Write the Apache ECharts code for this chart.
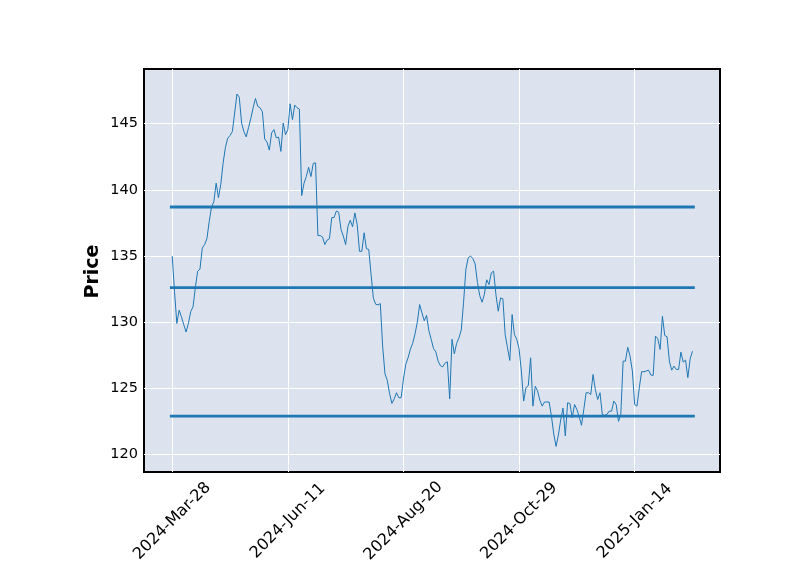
<!DOCTYPE html>
<html><head><meta charset="utf-8">
<script src="https://cdn.jsdelivr.net/npm/echarts@6/dist/echarts.min.js"></script>
<style>html,body{margin:0;padding:0;background:#fff}#c{width:800px;height:575px}</style>
</head><body><div id="c"></div>
<script>
// Close prices, one per trading day (index 0 = 2024-Mar-28)
const closePrices = [
135.0,132.3,129.9,130.9,130.4,129.8,129.25,129.9,130.8,131.15,
132.6,133.85,134.0,135.6,135.86,136.3,137.6,138.7,139.1,140.5,
139.4,140.4,142.0,143.2,143.9,144.1,144.4,145.8,147.24,146.99,
145.05,144.4,144.0,144.7,145.4,146.2,146.9,146.3,146.2,145.9,
143.84,143.6,143.0,144.3,144.55,143.92,143.99,142.9,145.05,144.17,
144.55,146.5,145.3,146.4,146.2,146.1,139.56,140.5,141.0,141.7,
141.0,142.0,142.03,136.54,136.54,136.44,135.86,136.2,136.3,137.9,
137.9,138.4,138.3,137.0,136.5,135.86,137.25,137.7,137.2,138.25,
137.37,135.35,135.35,136.75,135.54,135.5,133.6,131.8,131.35,131.3,
131.4,128.2,126.1,125.6,124.6,123.85,124.2,124.66,124.28,124.28,
125.7,126.8,127.3,127.95,128.4,129.1,130.0,131.33,130.7,130.1,
130.5,129.35,128.7,128.0,127.75,127.05,126.7,126.62,126.9,127.0,
124.2,128.7,127.6,128.4,128.8,129.4,131.5,134.0,134.86,135.0,
134.8,134.4,133.0,132.0,131.5,132.1,133.2,132.84,133.72,133.85,
132.08,130.82,131.83,131.76,129.06,128.06,127.1,130.57,129.06,128.7,
128.0,126.3,124.03,125.05,125.2,127.3,123.65,125.15,124.8,124.1,
123.65,123.96,123.96,123.96,122.9,121.55,120.6,121.45,122.6,123.5,
121.4,123.9,123.85,122.77,123.77,123.4,122.85,122.2,123.4,124.66,
124.66,124.53,126.04,124.9,124.15,124.66,123.02,122.95,123.02,123.27,
123.27,124.03,123.77,122.5,123.02,127.05,127.05,128.1,127.42,126.3,
123.77,123.65,125.04,126.25,126.25,126.3,126.37,126.0,125.97,128.94,
128.74,127.93,130.45,128.99,128.89,127.05,126.37,126.67,126.42,126.42,
127.73,126.98,127.13,125.8,127.23,127.8
];
const xTickPositions = [0, 50, 100, 150, 200];
const xTickLabels = ['2024-Mar-28', '2024-Jun-11', '2024-Aug-20', '2024-Oct-29', '2025-Jan-14'];
const yTicks = [120, 125, 130, 135, 140, 145];
const hlineLevels = [138.7, 132.6, 122.9];
const yAxisTitle = 'Price';

const chart = echarts.init(document.getElementById('c'), null, {renderer: 'canvas'});
const n = closePrices.length;
const lineData = closePrices.map((v, i) => [i, v]);
const blue = '#1f77b4';
const font = 'DejaVu Sans';

const hSeries = hlineLevels.map(v => ({
  type: 'line', data: [[-1, v], [n, v]], symbol: 'none', silent: true,
  lineStyle: {color: blue, width: 2.8}, z: 3
}));

chart.setOption({
  animation: false,
  backgroundColor: '#ffffff',
  textStyle: {fontFamily: font},
  grid: {left: 144, right: 80, top: 69, bottom: 103, show: true,
         backgroundColor: '#DCE3EF', borderColor: '#000000', borderWidth: 2},
  graphic: [{
    type: 'text', x: 93, y: 271.5, rotation: Math.PI / 2, silent: true,
    style: {text: yAxisTitle, font: 'bold 19px "DejaVu Sans"', fill: '#000',
            textAlign: 'center', textVerticalAlign: 'middle'}
  }],
  xAxis: {
    type: 'value', min: -12.2, max: 236.9,
    axisLine: {show: false},
    axisTick: {show: false, customValues: xTickPositions},
    splitLine: {show: true, lineStyle: {color: '#ffffff', width: 1}},
    axisLabel: {
      customValues: xTickPositions,
      formatter: v => xTickLabels[xTickPositions.indexOf(v)],
      rotate: 45, align: 'center', verticalAlign: 'middle', margin: 49,
      fontSize: 16, color: '#000', fontFamily: font
    }
  },
  yAxis: {
    type: 'value', min: 118.67, max: 149.13,
    axisLine: {show: false},
    axisTick: {show: false, customValues: yTicks},
    splitLine: {show: true, lineStyle: {color: '#ffffff', width: 1}},
    axisLabel: {customValues: yTicks, fontSize: 14.5, color: '#000', margin: 6, fontFamily: font}
  },
  series: [{
    type: 'line', data: lineData, symbol: 'none', silent: true,
    lineStyle: {color: blue, width: 1}, z: 4
  }].concat(hSeries)
});
</script>
</body></html>
